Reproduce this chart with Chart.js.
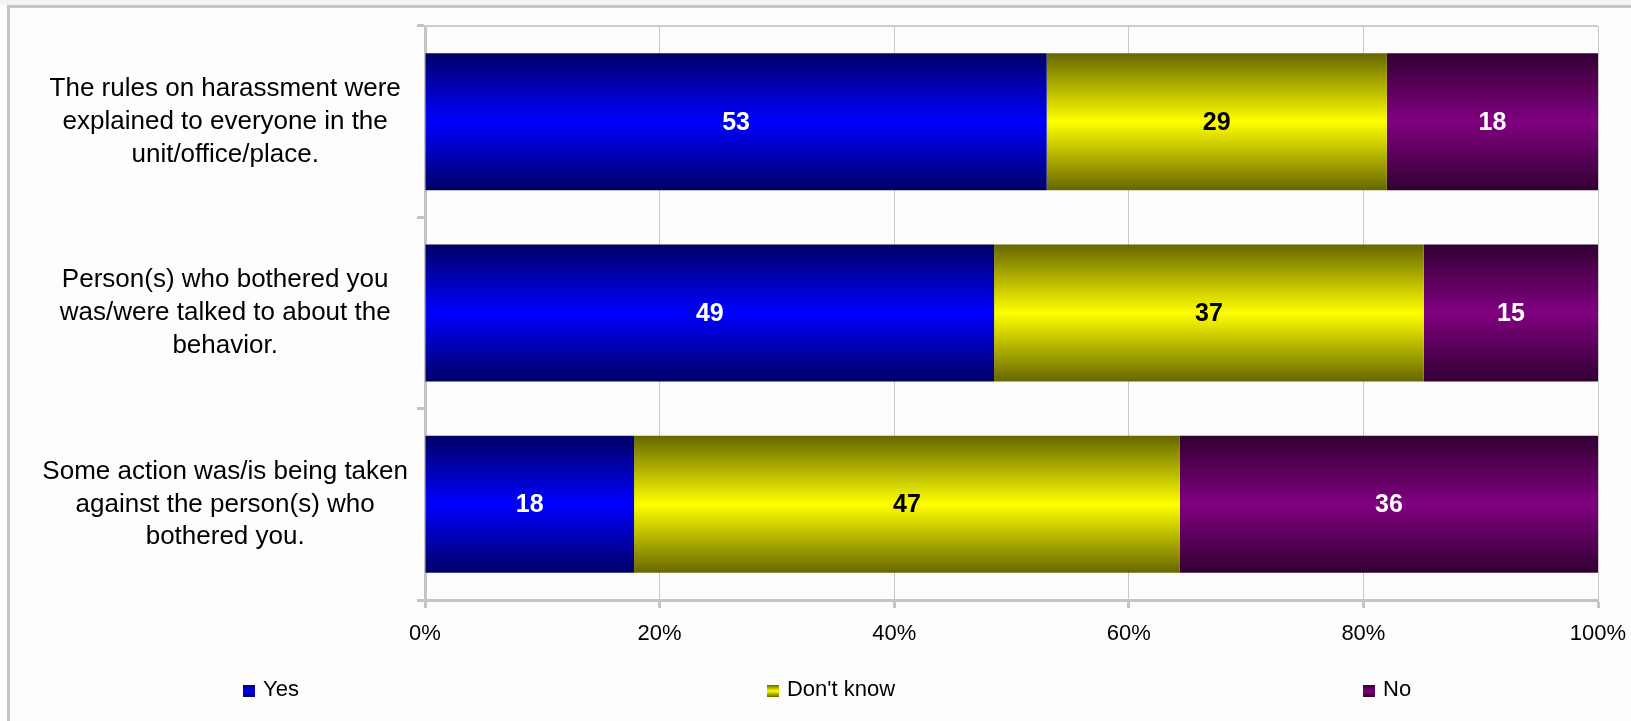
<!DOCTYPE html>
<html lang="en">
<head>
<meta charset="UTF-8">
<title>Actions taken after harassment</title>
<script src="https://cdn.jsdelivr.net/npm/chart.js"></script>
<style>
  body { margin: 0; background: #fff; font-family: "Liberation Sans", Arial, sans-serif; }
  .wrap { position: relative; width: 1631px; height: 721px; overflow: hidden; background: #fff; }
  .topband { position: absolute; left: 0; top: 0; width: 100%; height: 5px; background: #f3f3f3; }
  .frame { position: absolute; left: 7px; top: 5px; right: -10px; bottom: -10px;
           border-top: 3px solid #c4c4c4; border-left: 3px solid #c4c4c4; background: #fdfdfd; }
  canvas { position: absolute; left: 0; top: 0; }
  .legend { position: absolute; left: 243px; top: 676px; display: flex; gap: 468px; font-size: 22px; color: #000; }
  .legend .item { display: flex; align-items: center; white-space: nowrap; }
  .legend .box { width: 12px; height: 12px; margin-right: 8px; margin-top: 4px; }
</style>
</head>
<body>
<div class="wrap">
  <div class="topband"></div>
  <div class="frame"></div>
  <canvas id="chart" width="1631" height="721"></canvas>
  <div class="legend" id="legend"></div>
</div>
<script>
// categories (y axis), multi-line like the original
const categories = [
  ['The rules on harassment were', 'explained to everyone in the', 'unit/office/place.'],
  ['Person(s) who bothered you', 'was/were talked to about the', 'behavior.'],
  ['Some action was/is being taken', 'against the person(s) who', 'bothered you.']
];
const seriesNames = ['Yes', "Don't know", 'No'];
const yesValues = [53, 49, 18];
const dontKnowValues = [29, 37, 47];
const noValues = [18, 15, 36];
const xTickValues = [0, 20, 40, 60, 80, 100];

const rawSeries = [yesValues, dontKnowValues, noValues];
const seriesStyles = [
  { dark: '#000066', bright: '#0000ff', text: '#ffffff' },
  { dark: '#666600', bright: '#ffff00', text: '#000000' },
  { dark: '#330033', bright: '#800080', text: '#ffffff' }
];
const BAR_SHARE = 0.716;

// rows are shown as 100% stacked bars
const rowTotals = categories.map((_, i) => rawSeries.reduce((s, arr) => s + arr[i], 0));
const percentSeries = rawSeries.map(arr => arr.map((v, i) => v / rowTotals[i] * 100));

function barFill(ctx, style) {
  const chart = ctx.chart;
  const y = chart.scales.y;
  if (ctx.type !== 'data' || !y) return style.bright;
  const center = y.getPixelForValue(ctx.dataIndex);
  const half = (y.height / categories.length) * BAR_SHARE / 2;
  if (!isFinite(center) || !isFinite(half) || half <= 0) return style.bright;
  const g = chart.ctx.createLinearGradient(0, center - half, 0, center + half);
  g.addColorStop(0, style.dark);
  g.addColorStop(0.5, style.bright);
  g.addColorStop(1, style.dark);
  return g;
}

const plotFrame = {
  id: 'plotFrame',
  beforeDatasetsDraw(chart) {
    const { ctx, chartArea: a } = chart;
    ctx.save();
    ctx.strokeStyle = '#cccccc';
    ctx.lineWidth = 2;
    ctx.beginPath();
    ctx.moveTo(a.left, a.top);
    ctx.lineTo(a.right, a.top);
    ctx.stroke();
    ctx.restore();
  }
};

const valueLabels = {
  id: 'valueLabels',
  afterDatasetsDraw(chart) {
    const ctx = chart.ctx;
    ctx.save();
    ctx.font = 'bold 25px "Liberation Sans", Arial, sans-serif';
    ctx.textAlign = 'center';
    ctx.textBaseline = 'middle';
    chart.data.datasets.forEach((ds, i) => {
      chart.getDatasetMeta(i).data.forEach((bar, j) => {
        ctx.fillStyle = seriesStyles[i].text;
        ctx.fillText(String(rawSeries[i][j]), (bar.x + bar.base) / 2, bar.y + 1);
      });
    });
    ctx.restore();
  }
};

new Chart(document.getElementById('chart'), {
  type: 'bar',
  data: {
    labels: categories,
    datasets: seriesNames.map((name, i) => ({
      label: name,
      data: percentSeries[i],
      backgroundColor: ctx => barFill(ctx, seriesStyles[i]),
      borderWidth: 0,
      categoryPercentage: 1,
      barPercentage: BAR_SHARE
    }))
  },
  options: {
    indexAxis: 'y',
    responsive: false,
    animation: false,
    events: [],
    layout: { padding: { top: 26, right: 33, bottom: 81, left: 0 } },
    scales: {
      x: {
        stacked: true,
        min: 0,
        max: 100,
        afterBuildTicks: s => { s.ticks = xTickValues.map(v => ({ value: v })); },
        afterFit: s => { s.height = 40; s.paddingLeft = 0; s.paddingRight = 0; },
        ticks: {
          callback: v => v + '%',
          color: '#000',
          padding: 13,
          font: { family: '"Liberation Sans", Arial, sans-serif', size: 22 }
        },
        grid: { color: '#c8c8c8', lineWidth: 1, tickColor: '#c4c4c4', tickWidth: 3, tickLength: 8 },
        border: { color: '#c4c4c4', width: 3 }
      },
      y: {
        stacked: true,
        afterFit: s => { s.width = 425; s.paddingTop = 0; s.paddingBottom = 0; },
        ticks: {
          crossAlign: 'center',
          padding: 9,
          color: '#000',
          font: { family: '"Liberation Sans", Arial, sans-serif', size: 26, lineHeight: 1.26 }
        },
        grid: { offset: true, drawOnChartArea: false, color: '#c4c4c4', lineWidth: 3, tickLength: 8 },
        border: { color: '#c4c4c4', width: 3 }
      }
    },
    plugins: {
      legend: { display: false },
      tooltip: { enabled: false }
    }
  },
  plugins: [plotFrame, valueLabels]
});

// legend below the chart, same look as the original
const legendEl = document.getElementById('legend');
seriesNames.forEach((name, i) => {
  const st = seriesStyles[i];
  const item = document.createElement('span');
  item.className = 'item';
  const box = document.createElement('span');
  box.className = 'box';
  box.style.background = `linear-gradient(${st.dark}, ${st.bright}, ${st.dark})`;
  const txt = document.createElement('span');
  txt.textContent = name;
  item.appendChild(box);
  item.appendChild(txt);
  legendEl.appendChild(item);
});
</script>
</body>
</html>
